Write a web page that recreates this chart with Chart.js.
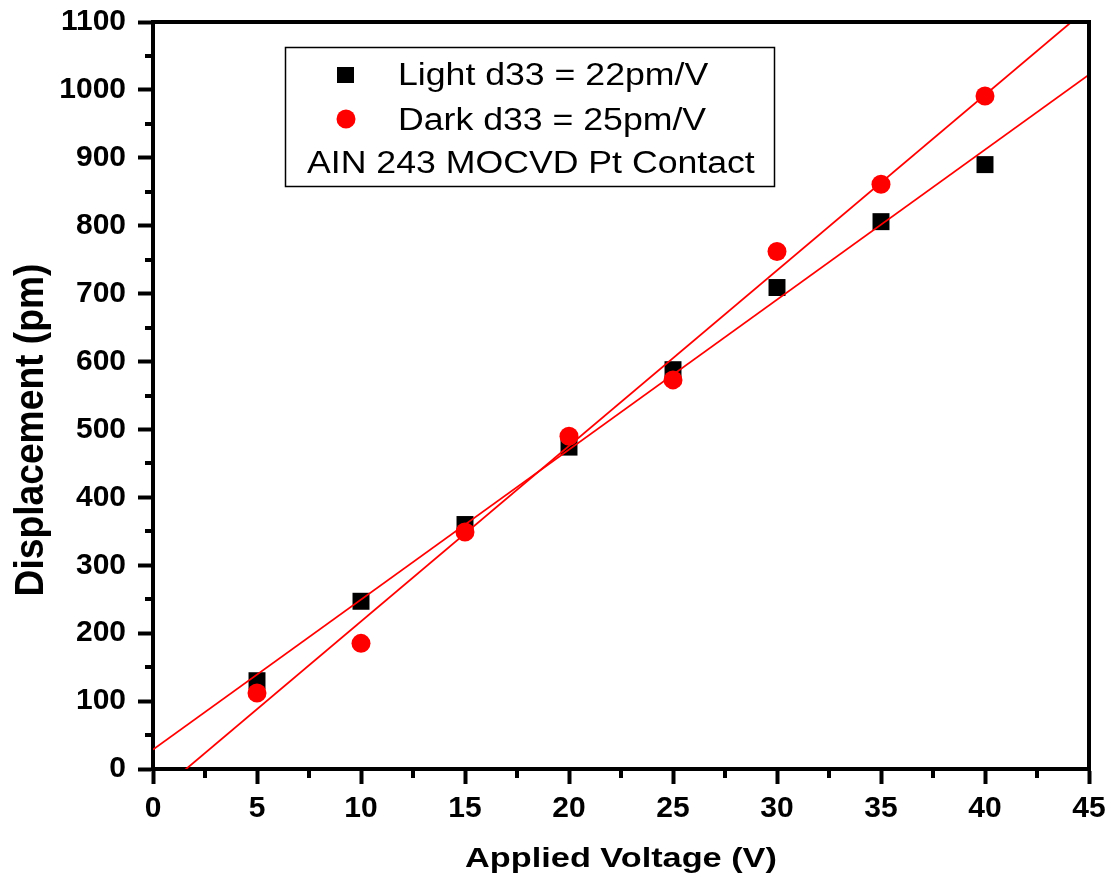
<!DOCTYPE html>
<html>
<head>
<meta charset="utf-8">
<title>Displacement vs Applied Voltage</title>
<script src="https://cdn.jsdelivr.net/npm/chart.js@4.4.1/dist/chart.umd.min.js"></script>
<style>
  html, body { margin: 0; padding: 0; background: #fff; }
  #box { width: 1109px; height: 882px; position: relative; }
</style>
</head>
<body>
<div id="box"><canvas id="grafico"></canvas></div>
<script>
// voltages applied and measured displacement (pm)
const voltage = [5, 10, 15, 20, 25, 30, 35, 40];
const lightDisp = [130, 247, 360, 474, 588, 709, 806, 890];
const darkDisp = [112, 185, 349, 490, 573, 762, 861, 991];

// axis ticks
const xTicks = [0, 5, 10, 15, 20, 25, 30, 35, 40, 45];
const yTicks = [0, 100, 200, 300, 400, 500, 600, 700, 800, 900, 1000, 1100];

// legend texts
const legendLines = ['Light d33 = 22pm/V', 'Dark d33 = 25pm/V', 'AIN 243 MOCVD Pt Contact'];
const xTitle = 'Applied Voltage (V)';
const yTitle = 'Displacement (pm)';

const RED = '#ff0000';
const BLACK = '#000000';

// least squares line through the points, drawn over the whole x range
const linearFit = (xs, ys) => {
    let n = xs.length, mx = 0, my = 0;
    for (let i = 0; i < n; i++) { mx += xs[i]; my += ys[i]; }
    mx /= n; my /= n;
    let sxy = 0, sxx = 0;
    for (let i = 0; i < n; i++) {
        sxy += (xs[i] - mx) * (ys[i] - my);
        sxx += (xs[i] - mx) * (xs[i] - mx);
    }
    const m = sxy / sxx, b = my - m * mx;
    const x0 = xTicks[0], x1 = xTicks[xTicks.length - 1];
    return [{ x: x0, y: b + m * x0 }, { x: x1, y: b + m * x1 }];
};

const toPoints = (ys) => voltage.map((v, i) => ({ x: v, y: ys[i] }));

// draws the frame, minor ticks, axis titles and the legend box
const extras = {
    id: 'extras',
    afterDraw(chart) {
        const { ctx, chartArea: a, scales: { x, y } } = chart;
        ctx.save();

        // top and right frame
        ctx.strokeStyle = BLACK;
        ctx.lineWidth = 4;
        ctx.beginPath();
        ctx.moveTo(a.left - 2, a.top);
        ctx.lineTo(a.right, a.top);
        ctx.lineTo(a.right, a.bottom + 2);
        ctx.stroke();

        // minor ticks half way between the labelled ones
        ctx.beginPath();
        for (let i = 0; i < xTicks.length - 1; i++) {
            const px = Math.round(x.getPixelForValue((xTicks[i] + xTicks[i + 1]) / 2));
            ctx.moveTo(px, a.bottom);
            ctx.lineTo(px, a.bottom + 9);
        }
        for (let i = 0; i < yTicks.length - 1; i++) {
            const py = Math.round(y.getPixelForValue((yTicks[i] + yTicks[i + 1]) / 2));
            ctx.moveTo(a.left, py);
            ctx.lineTo(a.left - 8, py);
        }
        ctx.stroke();

        // axis titles
        ctx.fillStyle = BLACK;
        ctx.textAlign = 'center';
        ctx.textBaseline = 'alphabetic';
        ctx.font = 'bold 27px "Liberation Sans", Arial, sans-serif';
        ctx.save();
        ctx.translate((a.left + a.right) / 2, 867);
        ctx.scale(1.27, 1);
        ctx.fillText(xTitle, 0, 0);
        ctx.restore();

        ctx.font = 'bold 40px "Liberation Sans", Arial, sans-serif';
        ctx.save();
        ctx.translate(43, 430);
        ctx.rotate(-Math.PI / 2);
        ctx.scale(0.93, 1);
        ctx.fillText(yTitle, 0, 0);
        ctx.restore();

        // legend
        ctx.fillStyle = '#fff';
        ctx.fillRect(285, 47, 490, 140);
        ctx.lineWidth = 1.5;
        ctx.strokeStyle = BLACK;
        ctx.strokeRect(285.5, 47.5, 489, 139);

        ctx.fillStyle = BLACK;
        ctx.fillRect(337, 67, 17, 16);
        ctx.fillStyle = RED;
        ctx.beginPath();
        ctx.arc(346, 119, 9.5, 0, Math.PI * 2);
        ctx.fill();

        ctx.fillStyle = BLACK;
        ctx.textAlign = 'left';
        ctx.font = '31px "Liberation Sans", Arial, sans-serif';
        const rows = [[398, 85], [398, 130], [307, 173]];
        legendLines.forEach((t, i) => {
            ctx.save();
            ctx.translate(rows[i][0], rows[i][1]);
            ctx.scale(1.15, 1);
            ctx.fillText(t, 0, 0);
            ctx.restore();
        });

        ctx.restore();
    }
};

const tickFont = { family: '"Liberation Sans", Arial, sans-serif', size: 30, weight: 'bold' };

const axisBase = {
    type: 'linear',
    grid: {
        drawOnChartArea: false,
        drawTicks: true,
        tickLength: 15,
        tickWidth: 4,
        tickColor: BLACK
    },
    border: { display: true, width: 4, color: BLACK },
    ticks: { color: BLACK, font: tickFont, callback: (v) => String(v) }
};

new Chart(document.getElementById('grafico'), {
    type: 'scatter',
    data: {
        datasets: [
            {
                label: 'Dark',
                data: toPoints(darkDisp),
                pointStyle: 'circle',
                pointRadius: 9.5,
                backgroundColor: RED,
                borderColor: RED,
                borderWidth: 0,
                order: 0
            },
            {
                label: 'Dark fit',
                type: 'line',
                data: linearFit(voltage, darkDisp),
                borderColor: RED,
                borderWidth: 1.8,
                pointRadius: 0,
                fill: false,
                order: 1
            },
            {
                label: 'Light fit',
                type: 'line',
                data: linearFit(voltage, lightDisp),
                borderColor: RED,
                borderWidth: 1.8,
                pointRadius: 0,
                fill: false,
                order: 1
            },
            {
                label: 'Light',
                data: toPoints(lightDisp),
                pointStyle: 'rect',
                pointRadius: 12,
                backgroundColor: BLACK,
                borderColor: BLACK,
                borderWidth: 0,
                order: 2
            }
        ]
    },
    options: {
        responsive: true,
        maintainAspectRatio: false,
        devicePixelRatio: 1,
        animation: false,
        layout: { padding: { top: 22, right: 20, bottom: 0, left: 0 } },
        plugins: {
            legend: { display: false },
            tooltip: { enabled: false }
        },
        scales: {
            x: {
                ...axisBase,
                position: 'bottom',
                min: 0,
                max: 45,
                ticks: { ...axisBase.ticks, stepSize: 5, padding: 7, maxRotation: 0 },
                afterFit: (s) => { s.height = 113; s.paddingLeft = 0; s.paddingRight = 0; }
            },
            y: {
                ...axisBase,
                position: 'left',
                min: 0,
                max: 1100,
                ticks: { ...axisBase.ticks, stepSize: 100, padding: 12 },
                afterFit: (s) => { s.width = 153; s.paddingTop = 0; s.paddingBottom = 0; }
            }
        }
    },
    plugins: [extras]
});
</script>
</body>
</html>
